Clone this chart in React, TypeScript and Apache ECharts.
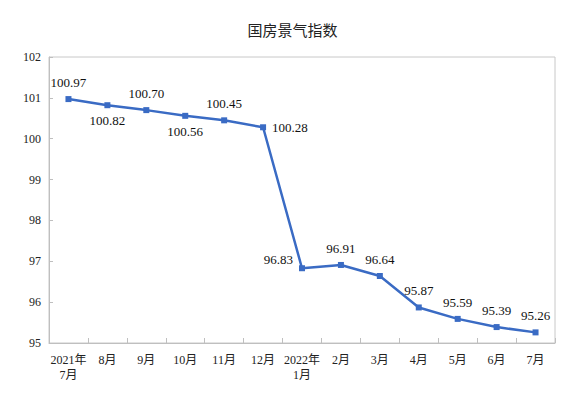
import React, { useEffect, useRef } from "react";
import * as echarts from "echarts";

const categories = ["2021年\n7月", "8月", "9月", "10月", "11月", "12月", "2022年\n1月", "2月", "3月", "4月", "5月", "6月", "7月"];
const values = [100.97, 100.82, 100.7, 100.56, 100.45, 100.28, 96.83, 96.91, 96.64, 95.87, 95.59, 95.39, 95.26];
const labelPositions = ["top", "bottom", "top", "bottom", "top", "right", "left", "top", "top", "top", "top", "top", "top"];
const yTicks = { min: 95, max: 102, interval: 1 };

const FONT = "'Liberation Serif', 'Times New Roman', 'Noto Sans CJK SC', serif";

export default function App() {
  const ref = useRef<HTMLDivElement>(null);
  useEffect(() => {
    if (!ref.current) return;
    const chart = echarts.init(ref.current, undefined, { renderer: "svg" });
    chart.setOption({
      animation: false,
      backgroundColor: "#ffffff",
      title: {
        text: "国房景气指数",
        left: "center",
        top: 17,
        textStyle: { fontFamily: "'Noto Sans CJK SC', sans-serif", fontSize: 15, fontWeight: "normal", color: "#222" },
      },
      grid: {
        left: 49,
        right: 30,
        top: 57,
        bottom: 51,
        show: true,
        borderColor: "#c8c8c8",
        borderWidth: 1,
      },
      xAxis: {
        type: "category",
        data: categories,
        boundaryGap: true,
        axisLine: { show: true, lineStyle: { color: "#bfbfbf", width: 1 } },
        axisTick: { show: true, inside: true, length: 5, alignWithLabel: false, lineStyle: { color: "#bfbfbf" } },
        axisLabel: { interval: 0, fontFamily: FONT, fontSize: 12, color: "#222", margin: 9, lineHeight: 15 },
        splitLine: { show: false },
      },
      yAxis: {
        type: "value",
        min: yTicks.min,
        max: yTicks.max,
        interval: yTicks.interval,
        axisLine: { show: true, lineStyle: { color: "#bfbfbf", width: 1 } },
        axisTick: { show: true, inside: true, length: 4, lineStyle: { color: "#bfbfbf" } },
        axisLabel: { fontFamily: FONT, fontSize: 12, color: "#222", margin: 8 },
        splitLine: { show: false },
      },
      series: [
        {
          type: "line",
          data: values.map((v, i) => ({
            value: v,
            label: {
              position: labelPositions[i],
              offset: labelPositions[i] === "left" ? [0, -9] : labelPositions[i] === "top" ? [0, -1] : [0, 0],
            },
          })),
          symbol: "rect",
          symbolSize: 6,
          lineStyle: { color: "#3a6bc4", width: 2.5 },
          itemStyle: { color: "#3a6bc4" },
          label: {
            show: true,
            formatter: (p: any) => Number(p.value).toFixed(2),
            fontFamily: FONT,
            fontSize: 13,
            color: "#111",
            distance: 6,
          },
        },
      ],
    });
    return () => chart.dispose();
  }, []);
  return <div ref={ref} style={{ width: 585, height: 394, position: "absolute", left: 0, top: 0 }} />;
}
